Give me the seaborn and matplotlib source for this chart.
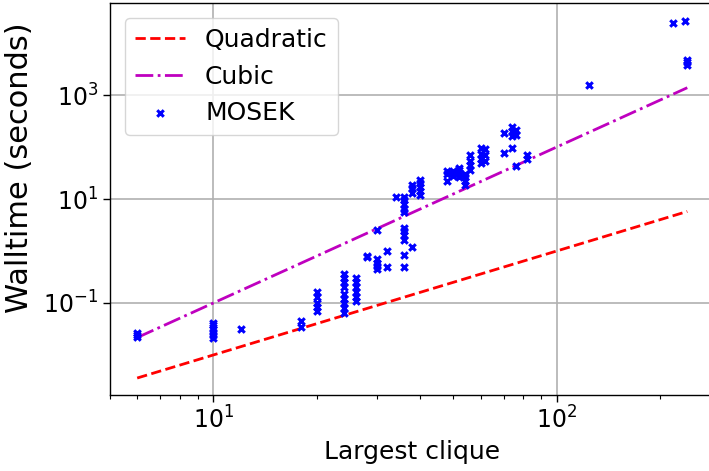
import matplotlib
matplotlib.use("Agg")
import matplotlib.pyplot as plt
import matplotlib.ticker as mticker
import seaborn as sns
import pandas as pd

# Solver walltimes against the largest clique size of each problem
clique_sizes = [
    6, 6, 6,
    10, 10, 10, 10, 10, 10,
    12,
    18, 18,
    20, 20, 20, 20, 20,
    24, 24, 24, 24, 24, 24, 24, 24, 24,
    26, 26, 26, 26, 26, 26,
    28, 28,
    30, 30, 30, 30, 30,
    32, 32,
    34,
    36, 36, 36, 36, 36, 36, 36, 36, 36, 36, 36,
    38, 38, 38, 38,
    40, 40, 40, 40, 40,
    48, 48, 48,
    50, 50, 50,
    52, 52, 52, 52,
    54, 54, 54, 54,
    56, 56, 56, 56,
    60, 60, 60, 60,
    62, 62, 62,
    70, 70,
    74, 74, 74, 74,
    76, 76, 76,
    82, 82,
    124,
    218,
    236,
    240, 240, 240,
]
mosek_walltime = [
    0.022, 0.024, 0.026,
    0.021, 0.024, 0.028, 0.032, 0.037, 0.042,
    0.032,
    0.035, 0.045,
    0.07, 0.085, 0.1, 0.13, 0.16,
    0.065, 0.08, 0.1, 0.12, 0.15, 0.2, 0.25, 0.3, 0.36,
    0.11, 0.13, 0.16, 0.2, 0.25, 0.3,
    0.75, 0.8,
    0.45, 0.52, 0.6, 0.7, 2.5,
    0.5, 1.0,
    11,
    0.5, 0.85, 1.6, 2.0, 2.4, 2.8, 5.5, 6.5, 8, 9.5, 11,
    1.2, 13, 16, 19,
    12, 14, 17, 20, 23,
    22, 30, 34,
    28, 32, 35,
    26, 30, 36, 40,
    19, 22, 26, 30,
    36, 45, 55, 70,
    50, 60, 75, 95,
    55, 70, 90,
    76, 188,
    94, 160, 200, 240,
    43, 170, 210,
    60, 70,
    1550,
    24000,
    26500,
    3800, 4300, 4800,
]

# Reference scaling curves (power laws are straight on log-log axes)
reference_x = [6, 240]
quadratic_y = [0.0036, 5.76]
cubic_y = [0.0216, 1382.4]

points = pd.DataFrame({"clique": clique_sizes, "walltime": mosek_walltime})

sns.set_theme(style="ticks")
plt.rcParams["font.family"] = ["DejaVu Sans"]
plt.rcParams["text.color"] = "black"
plt.rcParams["axes.labelcolor"] = "black"
plt.rcParams["xtick.color"] = "black"
plt.rcParams["ytick.color"] = "black"

fig = plt.figure(figsize=(7.09, 4.71), dpi=100)
ax = fig.add_axes([110 / 709, 76 / 471, 605 / 709, 392 / 471])

sns.lineplot(x=reference_x, y=quadratic_y, ax=ax, color="#ff0000", linestyle="--",
             linewidth=2, label="Quadratic")
sns.lineplot(x=reference_x, y=cubic_y, ax=ax, color="#bf00bf", linestyle="-.",
             linewidth=2, label="Cubic")
sns.scatterplot(data=points, x="clique", y="walltime", ax=ax, marker="x",
                color="#0000ff", s=22, linewidth=2.2, label="MOSEK", zorder=3)

ax.set_xscale("log")
ax.set_yscale("log")
ax.set_xlim(5.0, 289)
ax.set_ylim(10 ** -2.77, 10 ** 4.77)

ax.yaxis.set_major_locator(mticker.FixedLocator([1e-1, 1e1, 1e3]))
ax.yaxis.set_minor_locator(mticker.NullLocator())

ax.grid(True, which="major", color="#b0b0b0", linewidth=1.2)
ax.set_axisbelow(True)
for side in ["left", "bottom", "top", "right"]:
    ax.spines[side].set_color("black")
    ax.spines[side].set_linewidth(1.0)

ax.tick_params(axis="both", which="major", labelsize=17, length=5, width=1)
ax.tick_params(axis="x", which="minor", length=3, width=0.8)
ax.set_xlabel("Largest clique", fontsize=18)
ax.set_ylabel("Walltime (seconds)", fontsize=22)
ax.yaxis.set_label_coords(-0.125, 0.58)

ax.legend(loc="upper left", fontsize=18, frameon=True, framealpha=0.8,
          edgecolor="#cccccc", fancybox=True, borderaxespad=0.6)

fig.savefig("out.png", dpi=100)
